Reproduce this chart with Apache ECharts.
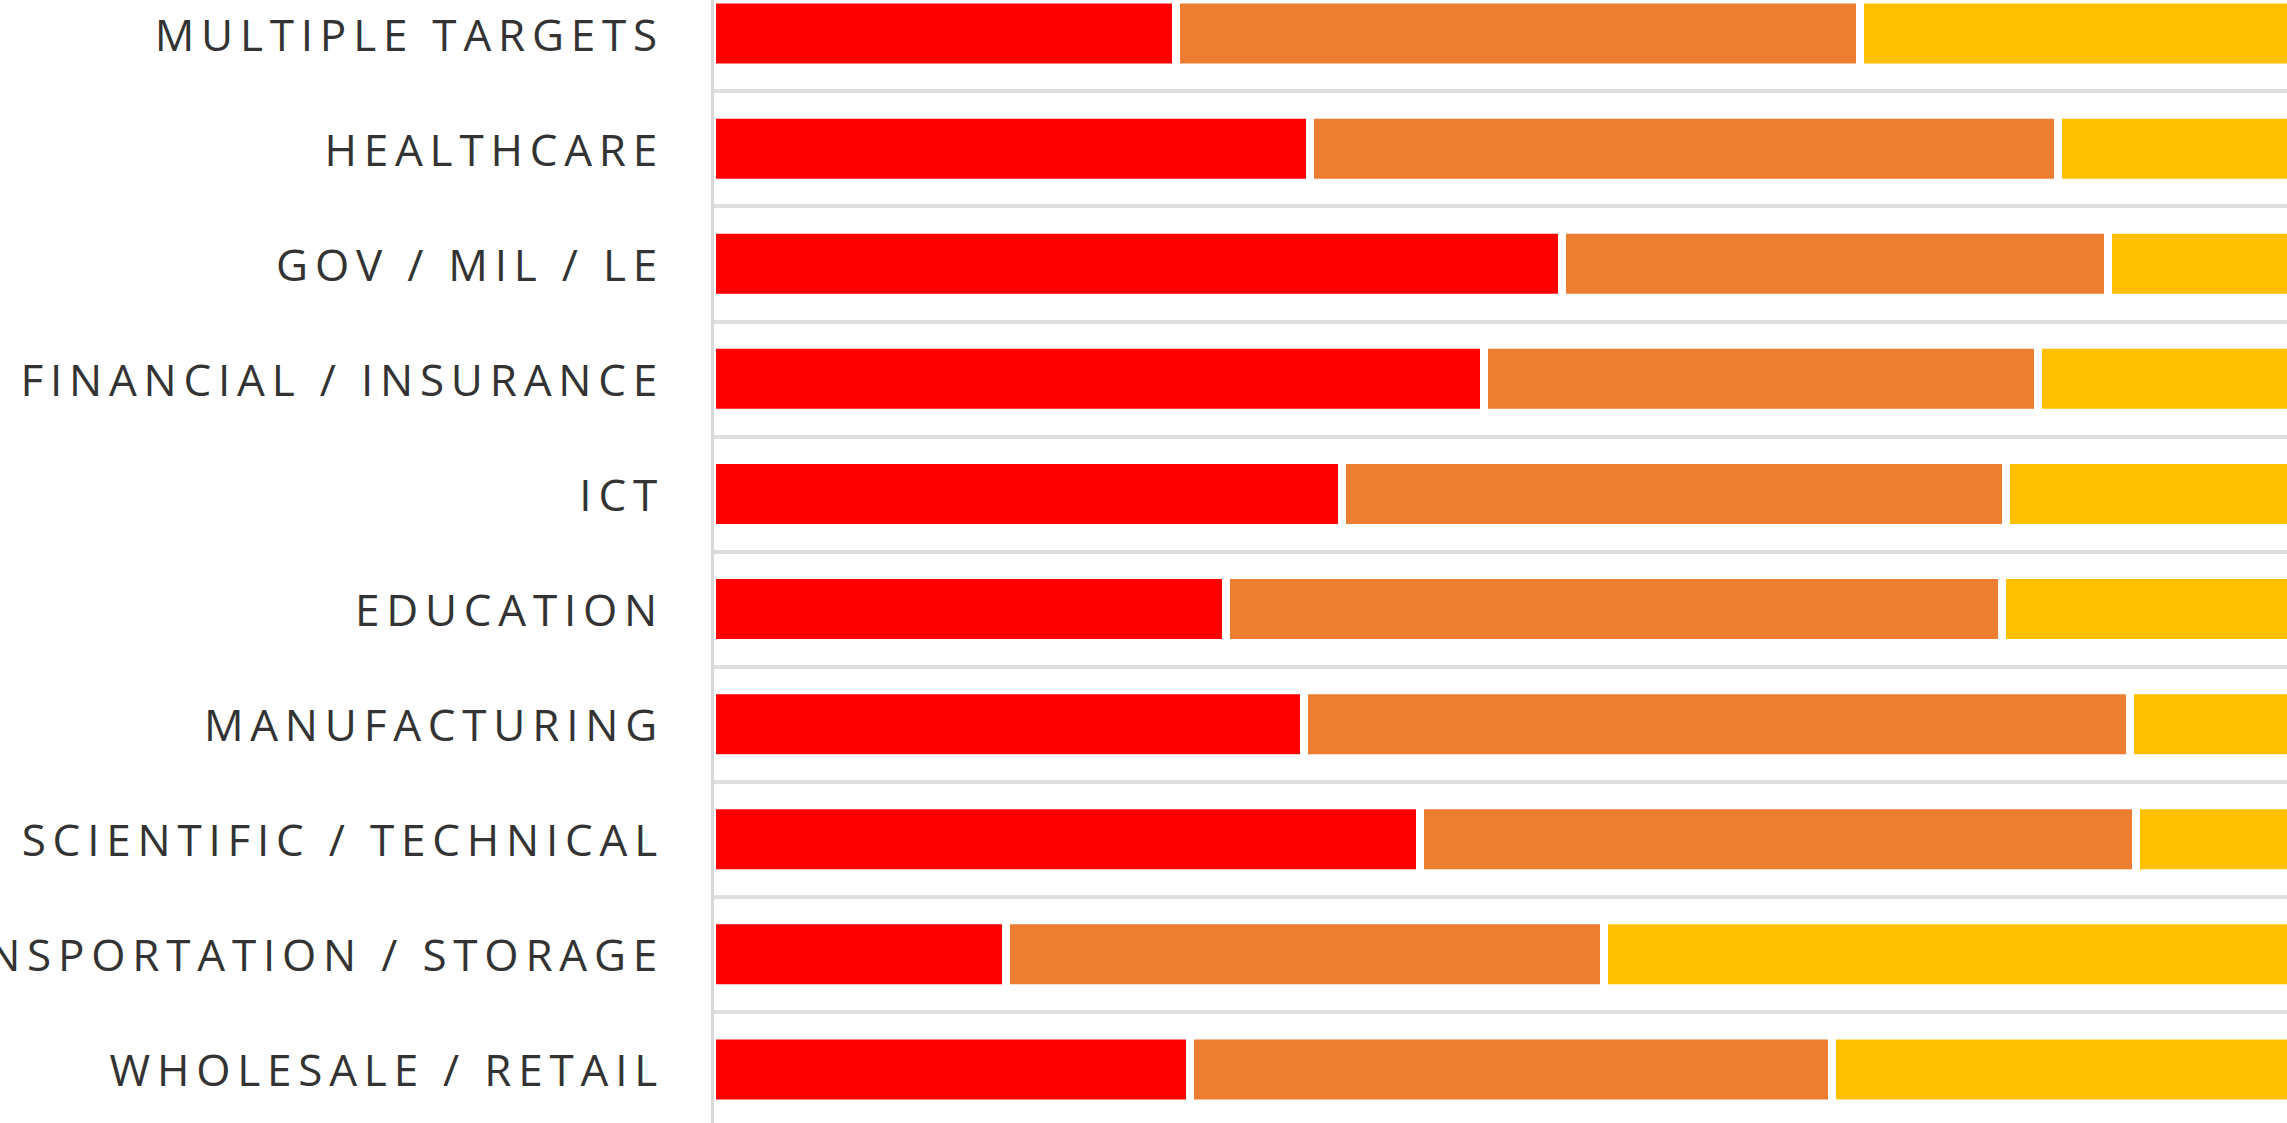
<!DOCTYPE html>
<html>
<head>
<meta charset="utf-8">
<title>Sectors</title>
<script src="https://cdn.jsdelivr.net/npm/echarts@6/dist/echarts.min.js"></script>
<style>
	html, body { margin: 0; padding: 0; background: #fff; }
	#main { width: 2287px; height: 1123px; }
	/* spaced capitals on the sector labels */
	#main text { letter-spacing: 6.8px; }
</style>
</head>
<body>
<div id="main"></div>
<script>
// categories, top to bottom
var sectors = [
	'MULTIPLE TARGETS',
	'HEALTHCARE',
	'GOV / MIL / LE',
	'FINANCIAL / INSURANCE',
	'ICT',
	'EDUCATION',
	'MANUFACTURING',
	'PROFESSIONAL / SCIENTIFIC / TECHNICAL',
	'TRANSPORTATION / STORAGE',
	'WHOLESALE / RETAIL'
];
// share of each bar, percent
var redValues = [23.2, 29.9, 42.5, 38.6, 31.5, 25.7, 29.6, 35.4, 14.7, 23.9];
var orangeValues = [34.2, 37.4, 27.3, 27.7, 33.2, 38.8, 41.3, 35.8, 29.9, 32.1];
var yellowValues = [42.6, 32.7, 30.2, 33.7, 35.3, 35.5, 29.1, 28.8, 55.4, 44.0];

var colors = ['#FF0000', '#ED7D31', '#FFC000'];

function makeSeries(name, data, color) {
	return {
		name: name,
		type: 'bar',
		stack: 'total',
		data: data,
		barWidth: 68,
		itemStyle: {
			color: color,
			borderColor: '#ffffff',
			borderWidth: 4
		}
	};
}

var option = {
	animation: false,
	grid: {
		left: 712,
		top: -24,
		width: 2000,
		height: 1151,
		// the picture is a crop: let the plot run past the edges
		outerBoundsMode: 'none',
		containLabel: false
	},
	xAxis: {
		type: 'value',
		min: 0,
		max: 100,
		show: false
	},
	yAxis: {
		type: 'category',
		data: sectors,
		inverse: true,
		z: 5,
		axisTick: { show: false },
		axisLine: {
			show: true,
			lineStyle: { color: '#d9d9d9', width: 3 }
		},
		splitLine: {
			show: true,
			interval: 0,
			lineStyle: { color: '#dedede', width: 4 }
		},
		axisLabel: {
			interval: 0,
			margin: 48,
			color: '#333333',
			fontFamily: 'Open Sans',
			fontSize: 44
		}
	},
	series: [
		makeSeries('red', redValues, colors[0]),
		makeSeries('orange', orangeValues, colors[1]),
		makeSeries('yellow', yellowValues, colors[2])
	]
};

var chart = echarts.init(document.getElementById('main'), null, { renderer: 'svg' });
chart.setOption(option);
</script>
</body>
</html>
